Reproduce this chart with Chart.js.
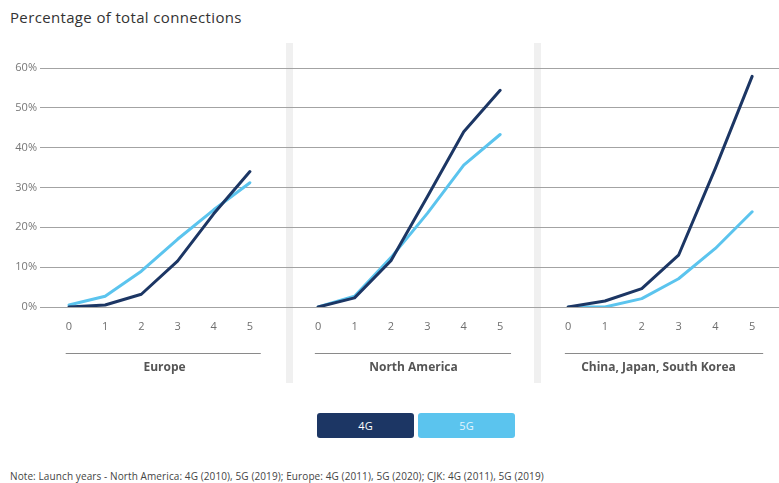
<!DOCTYPE html>
<html>
<head>
<meta charset="utf-8">
<script src="https://cdn.jsdelivr.net/npm/chart.js@4.4.0/dist/chart.umd.min.js"></script>
<style>
  body { margin: 0; background: #fff; font-family: "Open Sans", sans-serif; }
  #wrap { position: relative; width: 779px; height: 483px; overflow: hidden; }
  .title { position: absolute; left: 10px; top: 7px; font-size: 15px; letter-spacing: 0.35px; color: #333; }
  .sep { position: absolute; top: 43px; width: 7px; height: 340px; background: #f0f0f0; }
  .panel { position: absolute; top: 0; height: 375px; }
  .legend { position: absolute; top: 413px; left: 317px; display: flex; gap: 4px; }
  .legend div { width: 97px; height: 25px; line-height: 25px; border-radius: 3px; text-align: center; font-size: 11px; }
  .note { position: absolute; left: 10px; top: 469px; font-size: 10px; letter-spacing: 0.1px; color: #444; }
</style>
</head>
<body>
<div id="wrap">
  <div class="title">Percentage of total connections</div>
  <div class="sep" style="left:286px"></div>
  <div class="sep" style="left:534px"></div>
  <div class="panel" style="left:0;width:289px"><canvas id="c1"></canvas></div>
  <div class="panel" style="left:289px;width:249px"><canvas id="c2"></canvas></div>
  <div class="panel" style="left:538px;width:241px"><canvas id="c3"></canvas></div>
  <div class="legend" id="legend"></div>
  <div class="note">Note: Launch years - North America: 4G (2010), 5G (2019); Europe: 4G (2011), 5G (2020); CJK: 4G (2011), 5G (2019)</div>
</div>
<script>
// Anos desde o lançamento
const anos = [0, 1, 2, 3, 4, 5];
const series = ['4G', '5G'];
const cores = ['#1c3664', '#5bc4ee'];
const yTicks = [0, 10, 20, 30, 40, 50, 60];

// Percentual de conexões por região
const europa4G = [0, 0.5, 3.2, 11.5, 23.4, 34];
const europa5G = [0.5, 2.7, 9, 17, 24.4, 31.2];
const america4G = [0, 2.3, 11.6, 27.7, 44, 54.4];
const america5G = [0, 2.7, 12.4, 23.5, 35.6, 43.3];
const cjk4G = [0, 1.5, 4.6, 13, 34.8, 57.9];
const cjk5G = [0, 0, 2.1, 7.1, 14.7, 23.9];

const regioes = [
  { id: 'c1', nome: 'Europe', dados: [europa4G, europa5G], min: -0.8, max: 6.08, eixoY: true },
  { id: 'c2', nome: 'North America', dados: [america4G, america5G], min: -0.8, max: 6.04, eixoY: false },
  { id: 'c3', nome: 'China, Japan, South Korea', dados: [cjk4G, cjk5G], min: -0.82, max: 5.73, eixoY: false }
];

// Linha abaixo dos rótulos do eixo x
const sublinhado = {
  id: 'sublinhado',
  afterDraw(chart) {
    const x = chart.scales.x;
    const ctx = chart.ctx;
    ctx.save();
    ctx.strokeStyle = '#8a8a8a';
    ctx.lineWidth = 1;
    ctx.beginPath();
    ctx.moveTo(x.getPixelForValue(-0.09), 353.5);
    ctx.lineTo(x.getPixelForValue(5.3), 353.5);
    ctx.stroke();
    ctx.restore();
  }
};

regioes.forEach(r => {
  new Chart(document.getElementById(r.id), {
    type: 'line',
    data: {
      datasets: series.map((s, i) => ({
        label: s,
        data: anos.map((a, j) => ({ x: a, y: r.dados[i][j] })),
        borderColor: cores[i],
        borderWidth: 3,
        pointRadius: 0,
        tension: 0,
        borderJoinStyle: 'round',
        borderCapStyle: 'round'
      }))
    },
    options: {
      responsive: true,
      maintainAspectRatio: false,
      animation: false,
      layout: { padding: { top: 68, left: 0, right: 0, bottom: 0 } },
      plugins: { legend: { display: false }, tooltip: { enabled: false } },
      scales: {
        x: {
          type: 'linear',
          min: r.min,
          max: r.max,
          afterBuildTicks: sc => { sc.ticks = anos.map(v => ({ value: v })); },
          afterFit: sc => { sc.height = 68; },
          grid: { display: false, drawTicks: false },
          border: { display: false },
          ticks: { padding: 13, color: '#6e6e6e', font: { family: 'Open Sans', size: 11 } },
          title: {
            display: true,
            text: r.nome,
            color: '#555',
            font: { family: 'Open Sans', size: 12, weight: 'bold' },
            padding: { top: 0, bottom: 0 }
          }
        },
        y: {
          min: 0,
          max: 60,
          afterBuildTicks: sc => { sc.ticks = yTicks.map(v => ({ value: v })); },
          afterFit: sc => { sc.width = r.eixoY ? 40 : 0; },
          grid: { color: '#a3a3a3', lineWidth: 1, drawTicks: false },
          border: { display: false },
          ticks: {
            display: r.eixoY,
            padding: 3,
            color: '#777',
            font: { family: 'Open Sans', size: 11 },
            callback: v => v + '%'
          }
        }
      }
    },
    plugins: [sublinhado]
  });
});

// Legenda em forma de botões
const legenda = document.getElementById('legend');
series.forEach((s, i) => {
  const d = document.createElement('div');
  d.textContent = s;
  d.style.background = cores[i];
  d.style.color = i === 0 ? '#fff' : '#e3f5fd';
  legenda.appendChild(d);
});
</script>
</body>
</html>
